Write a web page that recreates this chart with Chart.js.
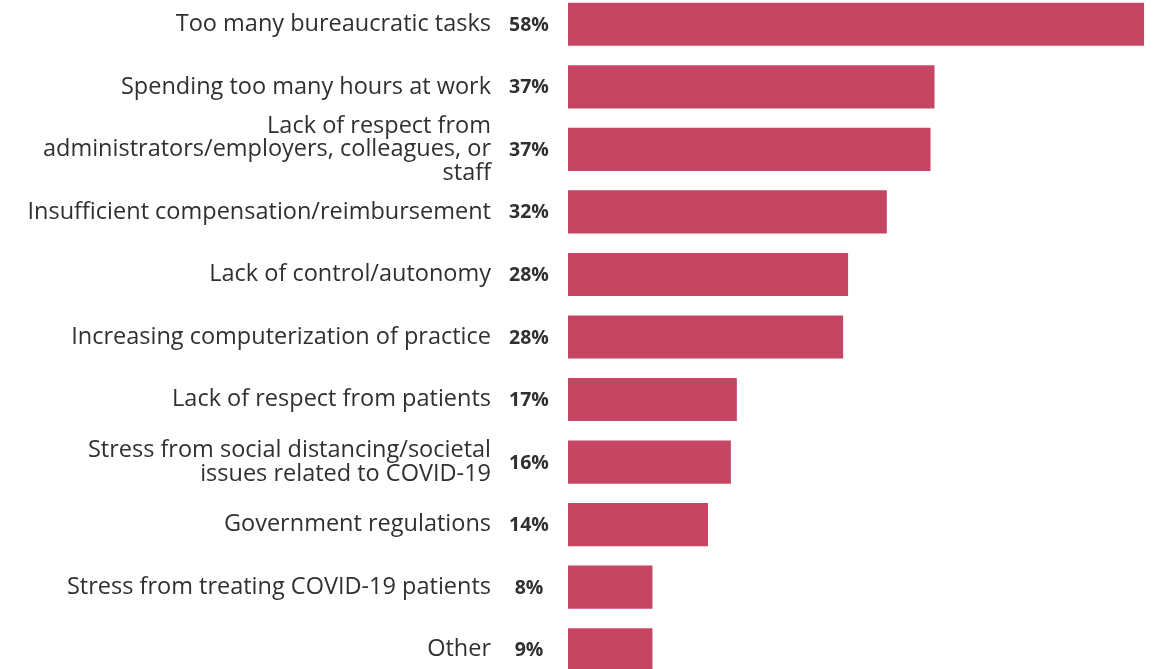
<!DOCTYPE html>
<html>
<head>
<meta charset="utf-8">
<script src="https://cdn.jsdelivr.net/npm/chart.js@4"></script>
<style>
  html, body { margin: 0; padding: 0; background: #fff; overflow: hidden; width: 1155px; height: 669px; }
  #chart { position: absolute; left: 0; top: -7px; }
</style>
</head>
<body>
<canvas id="chart" width="1155" height="688"></canvas>
<script>
// categories (multi-line ones as arrays), as printed left of the bars
var categories = [
  "Too many bureaucratic tasks",
  "Spending too many hours at work",
  ["Lack of respect from", "administrators/employers, colleagues, or", "staff"],
  "Insufficient compensation/reimbursement",
  "Lack of control/autonomy",
  "Increasing computerization of practice",
  "Lack of respect from patients",
  ["Stress from social distancing/societal", "issues related to COVID-19"],
  "Government regulations",
  "Stress from treating COVID-19 patients",
  "Other"
];
// bar lengths (percent)
var barValues = [58, 36.9, 36.5, 32.1, 28.2, 27.7, 17, 16.4, 14.1, 8.5, 8.5];
// printed percentage labels
var pctLabels = ["58%", "37%", "37%", "32%", "28%", "28%", "17%", "16%", "14%", "8%", "9%"];

var BAR = "#c64563";
var TEXT = "#303030";
var FONT = "'Open Sans', Lato, sans-serif";

// draws the bold percentage next to each bar
var pctPlugin = {
  id: "pct",
  afterDatasetsDraw: function (chart) {
    var ctx = chart.ctx;
    var meta = chart.getDatasetMeta(0);
    ctx.save();
    ctx.fillStyle = TEXT;
    ctx.font = "bold 19.5px " + FONT;
    ctx.textAlign = "center";
    ctx.textBaseline = "middle";
    meta.data.forEach(function (bar, i) {
      ctx.fillText(pctLabels[i], 529, bar.y + 1);
    });
    ctx.restore();
  }
};

new Chart(document.getElementById("chart").getContext("2d"), {
  type: "bar",
  data: {
    labels: categories,
    datasets: [{ data: barValues, backgroundColor: BAR, borderWidth: 0,
      categoryPercentage: 1, barPercentage: 0.69 }]
  },
  options: {
    indexAxis: "y",
    responsive: false,
    animation: false,
    layout: { padding: 0 },
    plugins: { legend: { display: false }, tooltip: { enabled: false } },
    scales: {
      x: { display: false, min: 0, max: 59.1, grid: { display: false } },
      y: {
        grid: { display: false, drawTicks: false },
        border: { display: false },
        ticks: {
          color: TEXT, padding: 77, autoSkip: false,
          font: { family: FONT, size: 23.5, lineHeight: 1.0 }
        },
        afterFit: function (scale) {
          scale.width = 568;
          scale.paddingTop = 0;
          scale.paddingBottom = 0;
        }
      }
    }
  },
  plugins: [pctPlugin]
});
</script>
</body>
</html>
